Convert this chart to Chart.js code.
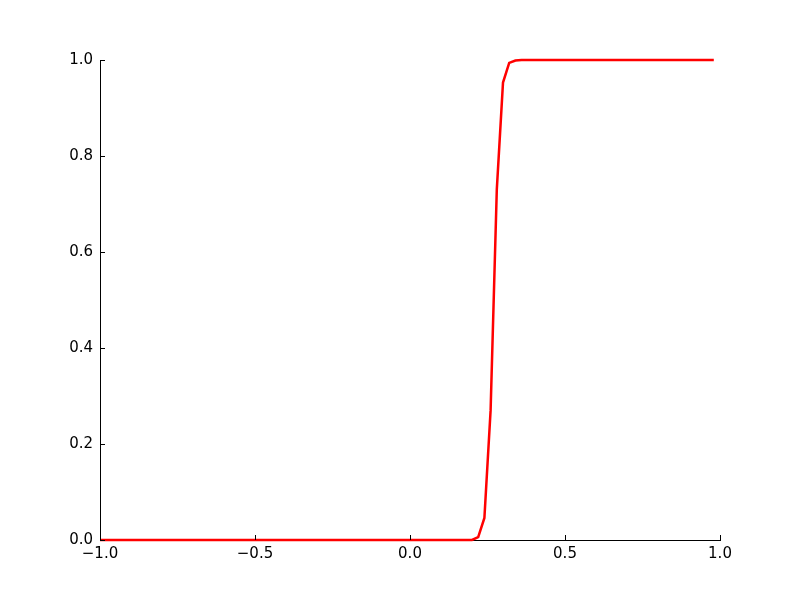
<!DOCTYPE html>
<html>
<head>
<meta charset="utf-8">
<script src="https://cdn.jsdelivr.net/npm/chart.js@4/dist/chart.umd.min.js"></script>
<style>
html,body{margin:0;padding:0;background:#fff;}
canvas{display:block;}
</style>
</head>
<body>
<canvas id="c" width="800" height="600"></canvas>
<script>
const xValues = [
 -1.00,-0.98,-0.96,-0.94,-0.92,-0.90,-0.88,-0.86,-0.84,-0.82,
 -0.80,-0.78,-0.76,-0.74,-0.72,-0.70,-0.68,-0.66,-0.64,-0.62,
 -0.60,-0.58,-0.56,-0.54,-0.52,-0.50,-0.48,-0.46,-0.44,-0.42,
 -0.40,-0.38,-0.36,-0.34,-0.32,-0.30,-0.28,-0.26,-0.24,-0.22,
 -0.20,-0.18,-0.16,-0.14,-0.12,-0.10,-0.08,-0.06,-0.04,-0.02,
  0.00, 0.02, 0.04, 0.06, 0.08, 0.10, 0.12, 0.14, 0.16, 0.18,
  0.20, 0.22, 0.24, 0.26, 0.28, 0.30, 0.32, 0.34, 0.36, 0.38,
  0.40, 0.42, 0.44, 0.46, 0.48, 0.50, 0.52, 0.54, 0.56, 0.58,
  0.60, 0.62, 0.64, 0.66, 0.68, 0.70, 0.72, 0.74, 0.76, 0.78,
  0.80, 0.82, 0.84, 0.86, 0.88, 0.90, 0.92, 0.94, 0.96, 0.98
];
const yValues = [
 0,0,0,0,0,0,0,0,0,0,
 0,0,0,0,0,0,0,0,0,0,
 0,0,0,0,0,0,0,0,0,0,
 0,0,0,0,0,0,0,0,0,0,
 0,0,0,0,0,0,0,0,0,0,
 0,0,0,0,0,0,0,0,0,0,
 0,0.006,0.046,0.27,0.73,0.953,0.994,0.999,1,1,
 1,1,1,1,1,1,1,1,1,1,
 1,1,1,1,1,1,1,1,1,1,
 1,1,1,1,1,1,1,1,1,1
];
const xTicks = [-1.0,-0.5,0.0,0.5,1.0];
const yTicks = [0.0,0.2,0.4,0.6,0.8,1.0];

const fmt = v => {
  const s = Math.abs(v).toFixed(1);
  return (v < 0 ? '\u2212' : '') + s;
};

const inwardTicks = {
  id: 'inwardTicks',
  afterDraw(chart) {
    const ctx = chart.ctx;
    const xs = chart.scales.x, ys = chart.scales.y;
    const area = chart.chartArea;
    ctx.save();
    ctx.strokeStyle = '#000';
    ctx.lineWidth = 1;
    ctx.beginPath();
    xTicks.forEach(v => {
      const px = Math.round(xs.getPixelForValue(v)) + 0.5;
      ctx.moveTo(px, area.bottom);
      ctx.lineTo(px, area.bottom - 5);
    });
    yTicks.forEach(v => {
      const py = Math.round(ys.getPixelForValue(v)) + 0.5;
      ctx.moveTo(area.left, py);
      ctx.lineTo(area.left + 5, py);
    });
    ctx.stroke();
    ctx.restore();
  }
};

const font = {family: 'DejaVu Sans', size: 15};

new Chart(document.getElementById('c'), {
  type: 'line',
  data: {
    datasets: [{
      data: xValues.map((x, i) => ({x: x, y: yValues[i]})),
      borderColor: '#ff0000',
      borderWidth: 2.5,
      pointRadius: 0,
      fill: false,
      tension: 0,
      clip: false
    }]
  },
  options: {
    responsive: false,
    devicePixelRatio: 1,
    animation: false,
    layout: {padding: {top: 60, right: 80, left: 0, bottom: 0}},
    plugins: {legend: {display: false}, tooltip: {enabled: false}},
    scales: {
      x: {
        type: 'linear', min: -1, max: 1,
        afterBuildTicks: s => { s.ticks = xTicks.map(v => ({value: v})); },
        afterFit: s => { s.height = 60; },
        grid: {display: false, drawTicks: false},
        border: {display: true, color: '#000', width: 1},
        ticks: {color: '#000', font: font, padding: 5, maxRotation: 0, callback: v => fmt(v)}
      },
      y: {
        type: 'linear', min: 0, max: 1,
        afterBuildTicks: s => { s.ticks = yTicks.map(v => ({value: v})); },
        afterFit: s => { s.width = 100; },
        grid: {display: false, drawTicks: false},
        border: {display: true, color: '#000', width: 1},
        ticks: {color: '#000', font: font, padding: 7, callback: v => fmt(v)}
      }
    }
  },
  plugins: [inwardTicks]
});
</script>
</body>
</html>
